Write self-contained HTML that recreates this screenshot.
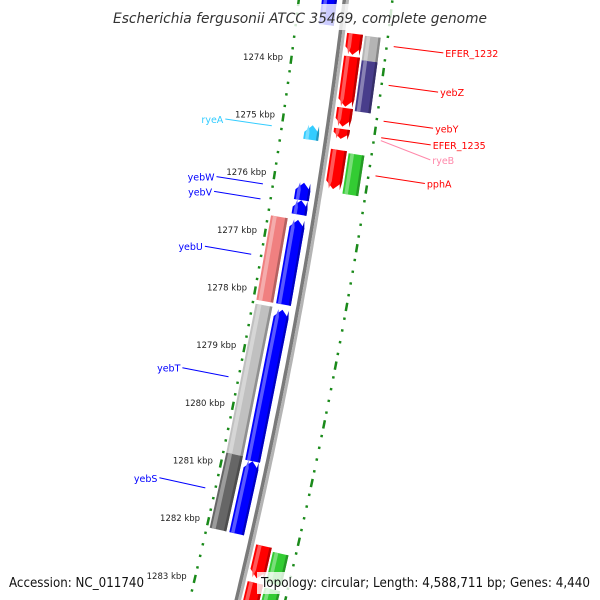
<!DOCTYPE html>
<html><head><meta charset="utf-8"><style>
html,body{margin:0;padding:0;background:#fff;width:600px;height:600px;overflow:hidden;}
svg{display:block;font-family:"DejaVu Sans","Liberation Sans",sans-serif;overflow:hidden;}
</style></head><body>
<svg id="map" width="600" height="600" viewBox="0 0 600 600" xmlns="http://www.w3.org/2000/svg">
<g id="rings"></g>
<g id="backbone"></g>
<g id="genes"></g>
<g id="labels"></g>
<g id="ticklabels"></g>
<rect x="108" y="4" width="384" height="26" fill="#fff" opacity="0.8"/>
<text x="300" y="23" text-anchor="middle" font-size="14" font-style="italic" fill="#333" textLength="374" lengthAdjust="spacingAndGlyphs">Escherichia fergusonii ATCC 35469, complete genome</text>
<rect x="5" y="572" width="142" height="22" fill="#fff" opacity="0.8"/>
<text x="9" y="587" font-size="13" fill="#111" textLength="135" lengthAdjust="spacingAndGlyphs">Accession: NC_011740</text>
<rect x="257" y="572" width="337" height="22" fill="#fff" opacity="0.8"/>
<text x="261" y="587" font-size="13" fill="#111" textLength="329" lengthAdjust="spacingAndGlyphs">Topology: circular; Length: 4,588,711 bp; Genes: 4,440</text>
</svg>
<script>
// ---- data ----
const tickKbp = [1274,1275,1276,1277,1278,1279,1280,1281,1282,1283];
const tickLabels = ["1274 kbp","1275 kbp","1276 kbp","1277 kbp","1278 kbp","1279 kbp","1280 kbp","1281 kbp","1282 kbp","1283 kbp"];
const geneNames = ["topBlue","EFER_1232","yebZ","yebY","EFER_1235","pphA","red7","red8","grayR","purpleR","greenR","green2","green3","ryeA","yebW","yebV","yebU","yebT","yebS","salmonL","grayL","darkGrayL"];
const geneStart = [1272.3,1273.42,1273.81,1274.69,1275.05,1275.41,1282.20,1282.83,1273.43,1273.85,1275.44,1282.26,1282.87,1275.06,1276.05,1276.35,1276.69,1278.24,1280.85,1276.69,1278.22,1280.80];
const geneEnd   = [1273.33,1273.78,1274.67,1275.01,1275.22,1276.08,1282.75,1283.45,1273.85,1274.72,1276.13,1282.78,1283.45,1275.31,1276.35,1276.60,1278.15,1280.85,1282.10,1278.15,1280.80,1282.10];
const geneStrand = [-1,1,1,1,1,1,1,1,0,0,0,0,0,-1,-1,-1,-1,-1,-1,0,0,0];
const geneTrack = ["LI","RI","RI","RI","RI","RI","RI","RI","RO","RO","RO","RO","RO","LI","LI","LI","LI","LI","LI","LO","LO","LO"];
const geneColor = ["#0000ff","#ff0000","#ff0000","#ff0000","#ff0000","#ff0000","#ff0000","#ff0000","#b4b4b4","#483d8b","#33cc33","#33cc33","#33cc33","#33ccff","#0000ff","#0000ff","#0000ff","#0000ff","#0000ff","#f08080","#c0c0c0","#666666"];
const labelText = ["EFER_1232","yebZ","yebY","EFER_1235","ryeB","pphA","ryeA","yebW","yebV","yebU","yebT","yebS"];
const labelKbp  = [1273.55,1274.21,1274.82,1275.10,1275.15,1275.75,1275.17,1276.18,1276.44,1277.40,1279.53,1281.46];
const labelSide = [1,1,1,1,1,1,-1,-1,-1,-1,-1,-1];
const labelColor = ["#ff0000","#ff0000","#ff0000","#ff0000","#ff88aa","#ff0000","#33ccff","#0000ff","#0000ff","#0000ff","#0000ff","#0000ff"];
const labelShift = [0,0,0,0,12,0,0,0,0,0,0,0];

// ---- geometry ----
const NS="http://www.w3.org/2000/svg";
function Y(k){return 66+(k-1274)*58.2;}
function X(y){return 346.1-0.1203*y-9.97e-5*y*y;}
function pt(k,off){const y=Y(k);const d=-0.1203-1.994e-4*y;const n=Math.sqrt(1+d*d);return [X(y)+off/n, y-off*d/n];}
function mk(tag,attrs,parent){const e=document.createElementNS(NS,tag);for(const a in attrs)e.setAttribute(a,attrs[a]);parent.appendChild(e);return e;}
function poly(pts){return pts.map(p=>p[0].toFixed(1)+","+p[1].toFixed(1)).join(" ");}
const tracks={RI:[5,21],RO:[23,39],LI:[-24,-9],LO:[-44,-27]};
const rings={L:-47,R:46};

// backbone
const bb=document.getElementById("backbone");
function band(o1,o2,col,name){const a=[],b=[];for(let k=1271.5;k<=1284.2;k+=0.1){a.push(pt(k,o1));b.unshift(pt(k,o2));}
 const p=mk("polygon",{points:poly(a.concat(b)),fill:col},bb);
 
 }
band(-3.5,0,"#7a7a7a","backbone-dark");
band(0,3,"#b4b4b4","backbone-light");

// rings
const rg=document.getElementById("rings");
for(const side in rings){const off=rings[side];
 for(let i=0;i<=58;i++){const k=1272.4+i*0.2;const isTick=Math.abs(k-Math.round(k))<0.01;
  const hl=isTick?0.07:0.02;const a=pt(k-hl,off),b=pt(k+hl,off);
  const l=mk("line",{x1:a[0],y1:a[1],x2:b[0],y2:b[1],stroke:"#1a8a1a","stroke-width":2.5},rg);
  
  }}

// tick labels
const tl=document.getElementById("ticklabels");
tickKbp.forEach((k,i)=>{const p=pt(k,rings.L);
 const t=mk("text",{x:(p[0]-8).toFixed(1),y:(p[1]).toFixed(1),"text-anchor":"end","font-size":"8.5",fill:"#222"},tl);
 t.textContent=tickLabels[i];
 
 });

// genes
const gg=document.getElementById("genes");
const HEAD=0.13;
function shape(s,e,o1,o2,strand){const L=e-s;const h=Math.min(HEAD,L*0.6);const m=(o1+o2)/2;
 if(strand===1)return [pt(s,o1),pt(s,o2),pt(e-h,o2),pt(e,m),pt(e-h,o1)];
 if(strand===-1)return [pt(e,o1),pt(e,o2),pt(s+h,o2),pt(s,m),pt(s+h,o1)];
 return [pt(s,o1),pt(s,o2),pt(e,o2),pt(e,o1)];}
function shade(hex,f){const n=parseInt(hex.slice(1),16);let r=n>>16,g=(n>>8)&255,b=n&255;
 if(f>0){r+=(255-r)*f;g+=(255-g)*f;b+=(255-b)*f;}else{r*=1+f;g*=1+f;b*=1+f;}
 return "rgb("+Math.round(r)+","+Math.round(g)+","+Math.round(b)+")";}
geneNames.forEach((nm,i)=>{const tr=tracks[geneTrack[i]];const s=geneStart[i],e=geneEnd[i],st=geneStrand[i],c=geneColor[i];
 const g=mk("g",{},gg);
 
 
 mk("polygon",{points:poly(shape(s,e,tr[0],tr[1],st)),fill:c},g);
 const w=tr[1]-tr[0];
 mk("polygon",{points:poly(shape(s,e,tr[0]+w*0.12,tr[0]+w*0.35,st)),fill:shade(c,0.35)},g);
 mk("polygon",{points:poly(shape(s,e,tr[1]-w*0.15,tr[1],st)),fill:shade(c,-0.25)},g);});

// gene labels
const lg=document.getElementById("labels");
labelText.forEach((txt,i)=>{const sd=labelSide[i];const k=labelKbp[i];
 const a=pt(k,sd>0?53:-57);const b0=pt(k,sd>0?103:-104);const b=[b0[0],b0[1]+labelShift[i]];
 const l=mk("line",{x1:a[0].toFixed(1),y1:a[1].toFixed(1),x2:b[0].toFixed(1),y2:b[1].toFixed(1),stroke:labelColor[i],"stroke-width":1},lg);
 
 
 const t=mk("text",{x:(b[0]+(sd>0?2:-2)).toFixed(1),y:(b[1]+4).toFixed(1),"text-anchor":sd>0?"start":"end","font-size":"9.5",fill:labelColor[i]},lg);
 t.textContent=txt;
 
 });
</script>
</body></html>
